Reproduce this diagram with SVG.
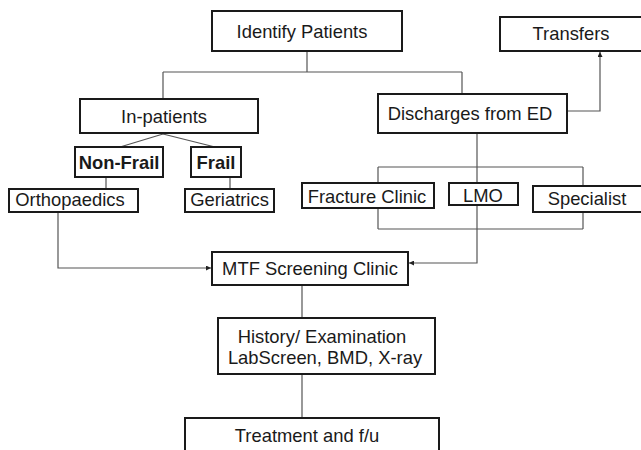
<svg xmlns="http://www.w3.org/2000/svg" width="641" height="450" viewBox="0 0 641 450">
<style>
.box{fill:#fff;stroke:#1a1a1a;stroke-width:2}
.t{font-family:"Liberation Sans",Arial,sans-serif;font-size:18.4px;fill:#1a1a1a;text-anchor:middle}
.b{font-weight:bold}
.c{fill:none;stroke:#555;stroke-width:1.2}
</style>
<defs>
<marker id="ah" viewBox="0 0 6 6" refX="6" refY="3" markerWidth="5" markerHeight="5" orient="auto" markerUnits="userSpaceOnUse">
<path d="M0,0 L6,3 L0,6 z" fill="#222"/>
</marker>
</defs>
<rect width="641" height="450" fill="#fff"/>
<g id="connectors">
<path class="c" d="M307,51 V72 M163,72 H462 M163,72 V99 M462,72 V94"/>
<path class="c" d="M567,111 H600 V52" marker-end="url(#ah)"/>
<path class="c" d="M163,134 L120,147 M163,134 L215,147"/>
<path class="c" d="M106,177 V189 M230,177 V189"/>
<path class="c" d="M477,133 V167 M378,167 H583 M378,167 V183 M583,167 V186 M477,167 V183"/>
<path class="c" d="M378,208 V229 M583,212 V229 M378,229 H583 M477,205 V229"/>
<path class="c" d="M477,229 V263 H409" marker-end="url(#ah)"/>
<path class="c" d="M58,212 V268 H211" marker-end="url(#ah)"/>
<path class="c" d="M302,285 V318 M302,374 V418"/>
</g>
<g id="identify"><rect class="box" x="212" y="11" width="190" height="40"/><text class="t" x="302" y="38">Identify Patients</text></g>
<g id="transfers"><rect class="box" x="500" y="17" width="150" height="34"/><text class="t" x="571" y="40">Transfers</text></g>
<g id="inpatients"><rect class="box" x="80" y="99" width="178" height="34"/><text class="t" x="164" y="123">In-patients</text></g>
<g id="discharges"><rect class="box" x="378" y="94" width="189" height="39"/><text class="t" x="470" y="120">Discharges from ED</text></g>
<g id="nonfrail"><rect class="box" x="75" y="147" width="88" height="30"/><text class="t b" x="119" y="169">Non-Frail</text></g>
<g id="frail"><rect class="box" x="191" y="147" width="50" height="30"/><text class="t b" x="216" y="169">Frail</text></g>
<g id="ortho"><rect class="box" x="9" y="189" width="129" height="23"/><text class="t" x="70" y="206">Orthopaedics</text></g>
<g id="geriatrics"><rect class="box" x="185" y="189" width="89" height="23"/><text class="t" x="229.5" y="206">Geriatrics</text></g>
<g id="fracture"><rect class="box" x="302" y="183" width="132" height="25"/><text class="t" x="367" y="203">Fracture Clinic</text></g>
<g id="lmo"><rect class="box" x="449" y="183" width="69" height="22"/><text class="t" x="483" y="202">LMO</text></g>
<g id="specialist"><rect class="box" x="533" y="186" width="120" height="26"/><text class="t" x="587" y="205">Specialist</text></g>
<g id="mtf"><rect class="box" x="212" y="252" width="196" height="33"/><text class="t" x="310" y="275">MTF Screening Clinic</text></g>
<g id="history"><rect class="box" x="218" y="318" width="217" height="56"/><text class="t" x="322" y="343">History/ Examination</text><text class="t" x="325" y="364">LabScreen, BMD, X-ray</text></g>
<g id="treatment"><rect class="box" x="185" y="418" width="254" height="40"/><text class="t" x="307" y="442">Treatment and f/u</text></g>
</svg>
